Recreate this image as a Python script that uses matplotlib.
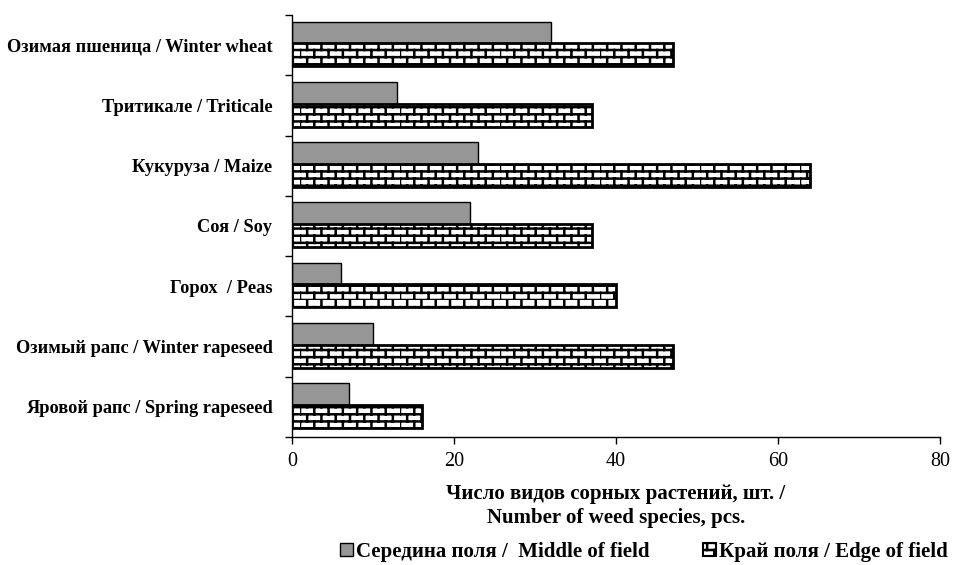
import numpy as np
import matplotlib
matplotlib.use("Agg")
import matplotlib.pyplot as plt
import matplotlib.hatch as mhatch
from matplotlib.path import Path
from matplotlib.patches import Patch
import warnings
warnings.filterwarnings("ignore")

categories = [
    "Озимая пшеница / Winter wheat",
    "Тритикале / Triticale",
    "Кукуруза / Maize",
    "Соя / Soy",
    "Горох  / Peas",
    "Озимый рапс / Winter rapeseed",
    "Яровой рапс / Spring rapeseed",
]
middle = [32, 13, 23, 22, 6, 10, 7]
edge = [47, 37, 64, 37, 40, 47, 16]
xticks = [0, 20, 40, 60, 80]
label_middle = "Середина поля /  Middle of field"
label_edge = "Край поля / Edge of field"
xlabel = "Число видов сорных растений, шт. /\nNumber of weed species, pcs."


class BrickHatch(mhatch.HatchPatternBase):
    def __init__(self, hatch, density):
        self.nx = 7
        self.ny = 14
        if 'b' in hatch:
            self.num_lines = self.ny + self.ny * self.nx
        else:
            self.num_lines = 0
        self.num_vertices = self.num_lines * 2

    def set_vertices_and_codes(self, vertices, codes):
        segs = []
        for r in range(self.ny):
            y0 = r / self.ny
            y1 = (r + 1) / self.ny
            segs.append(((0.0, y0), (1.0, y0)))
            off = 0.5 / self.nx if r % 2 else 0.0
            for j in range(self.nx):
                x = j / self.nx + off
                segs.append(((x, y0), (x, y1)))
        segs = np.array(segs)
        vertices[0::2] = segs[:, 0]
        vertices[1::2] = segs[:, 1]
        codes[0::2] = Path.MOVETO
        codes[1::2] = Path.LINETO


mhatch._hatch_types.append(BrickHatch)

plt.rcParams['font.family'] = ['Liberation Serif', 'DejaVu Serif']
plt.rcParams['hatch.linewidth'] = 1.8
plt.rcParams['hatch.color'] = 'black'

fig = plt.figure(figsize=(9.62, 5.65), dpi=100)
ax = fig.add_axes([0.3035, 0.2265, 0.6735, 0.747])

pos = np.arange(len(categories))
ax.barh(pos - 0.21, middle, height=0.36, color='#969696',
        edgecolor='black', linewidth=1.0, align='center')
ax.barh(pos + 0.16, edge, height=0.38, color='white', edgecolor='black',
        linewidth=2.0, hatch='b', align='center')

ax.set_ylim(len(categories) - 0.5, -0.5)
ax.set_xlim(0, 80)
ax.set_xticks(xticks)
ax.set_xticklabels([str(v) for v in xticks], fontsize=14.5)
ax.set_yticks(np.arange(len(categories) + 1) - 0.5)
ax.set_yticklabels([])
ax.set_yticks(pos, minor=True)
ax.set_yticklabels(categories, minor=True, fontsize=13.2, fontweight='bold')
ax.tick_params(axis='y', which='minor', length=0, pad=14)
ax.tick_params(axis='y', which='major', length=5, direction='out', width=1)
ax.tick_params(axis='x', length=5, direction='out', width=1, pad=6)
for s in ['top', 'right']:
    ax.spines[s].set_visible(False)
for s in ['left', 'bottom']:
    ax.spines[s].set_linewidth(1.0)

ax.set_xlabel(xlabel, fontsize=15, fontweight='bold', labelpad=9,
              linespacing=1.3)

handles = [Patch(facecolor='#969696', edgecolor='black', linewidth=1.0),
           Patch(facecolor='white', edgecolor='black', linewidth=1.5, hatch='b')]
fig.legend(handles, [label_middle, label_edge], loc='lower center',
           bbox_to_anchor=(644 / 962, -0.028), ncol=2, frameon=False,
           prop={'weight': 'bold', 'size': 15}, handlelength=0.6,
           handleheight=0.6, handletextpad=0.15, columnspacing=2.6)

fig.savefig("out.png", dpi=100)
